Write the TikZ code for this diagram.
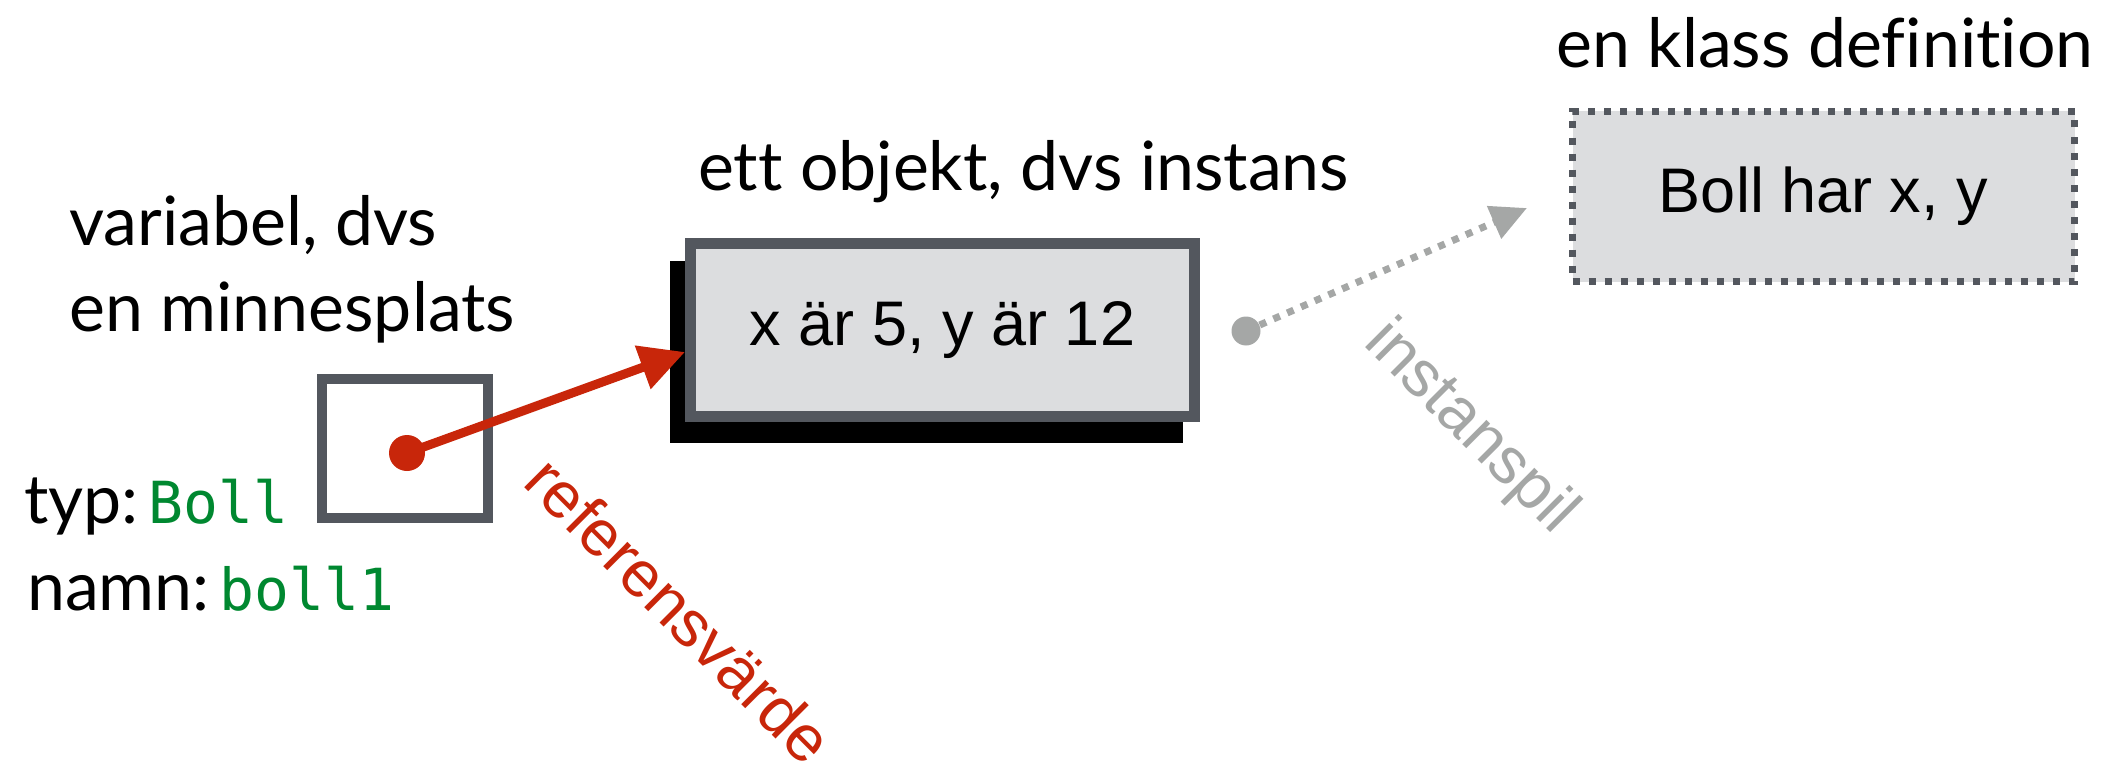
\documentclass[tikz,border=0pt]{standalone}
\usepackage{fontspec}
\setmainfont{Lato}[Ligatures={NoCommon}]
\setmonofont{DejaVu Sans Mono}
\newfontfamily\helv{Liberation Sans}
\usetikzlibrary{arrows.meta,backgrounds}
\definecolor{bordergray}{RGB}{83,87,94}
\definecolor{boxfill}{RGB}{220,221,223}
\definecolor{refred}{RGB}{200,38,10}
\definecolor{arrowgray}{RGB}{165,167,166}
\definecolor{codegreen}{RGB}{0,136,48}
\newcommand{\codetxt}[1]{\textcolor{codegreen}{\ttfamily\fontsize{58}{60}\selectfont #1}}
\begin{document}
\begin{tikzpicture}[x=1pt,y=-1pt,
  lbl/.style={inner sep=0pt, anchor=base west, font=\fontsize{68}{72}\selectfont},
  boxtxt/.style={font=\helv\fontsize{63}{70}\selectfont},
  rotlbl/.style={inner sep=0pt, anchor=base west, rotate=-45, font=\helv\fontsize{65}{70}\selectfont},
  objstyle/.style={draw=bordergray, fill=boxfill, line width=11pt, outer sep=5.5pt, inner sep=0pt, boxtxt},
  classstyle/.style={draw=bordergray, fill=boxfill, line width=7pt, dash pattern=on 7pt off 9pt, inner sep=0pt, boxtxt},
  varstyle/.style={draw=bordergray, line width=10pt, inner sep=0pt},
  dotstyle/.style={circle, inner sep=0pt},
  refarrow/.style={draw=refred, line width=9pt, -{Triangle[length=45pt,width=44pt]}},
  instarrow/.style={draw=arrowgray, line width=7pt, dash pattern=on 7pt off 8pt, -{Triangle[length=36pt,width=34pt]}}]
\useasboundingbox (0,0) rectangle (2124,765);
% class definition
\node[lbl] (classlbl) at (1556,68) {en klass definition};
\node[classstyle, minimum width=502pt, minimum height=170pt] (classbox) at (1823.5,196.5) {Boll har x, y};
% object
\node[lbl] (objlbl) at (698,190) {ett objekt, dvs instans};
\node[objstyle, minimum width=504pt, minimum height=173pt] (objbox) at (942.5,330) {x är 5, y är 12};
\begin{scope}[on background layer]
\fill[black] ([shift={(-15,23)}]objbox.north west) rectangle ([shift={(-17,21)}]objbox.south east);
\end{scope}
% variable
\node[lbl] (varl1) at (69,245) {variabel, dvs};
\node[lbl] (varl2) at (69,331) {en minnesplats};
\node[varstyle, minimum width=166pt, minimum height=139pt] (varbox) at (405,448.5) {};
\node[lbl] (typlbl) at (24,523) {typ:\hspace{10pt}\codetxt{Boll}};
\node[lbl] (namnlbl) at (27,610) {namn:\hspace{10pt}\codetxt{boll1}};
% reference arrow
\node[dotstyle, fill=refred, minimum size=36pt] (refdot) at (407,453) {};
\draw[refarrow] (refdot.center) -- ([yshift=-22pt]objbox.west);
\node[rotlbl, text=refred] (reflbl) at (521,484) {referensvärde};
% instance arrow
\node[dotstyle, fill=arrowgray, minimum size=29pt] (instdot) at (1246,331) {};
\coordinate (insttip) at (1527,208);
\draw[instarrow] (instdot.center) -- (insttip);
\node[rotlbl, text=arrowgray] (instlbl) at (1362,344) {instanspil};
\end{tikzpicture}
\end{document}
